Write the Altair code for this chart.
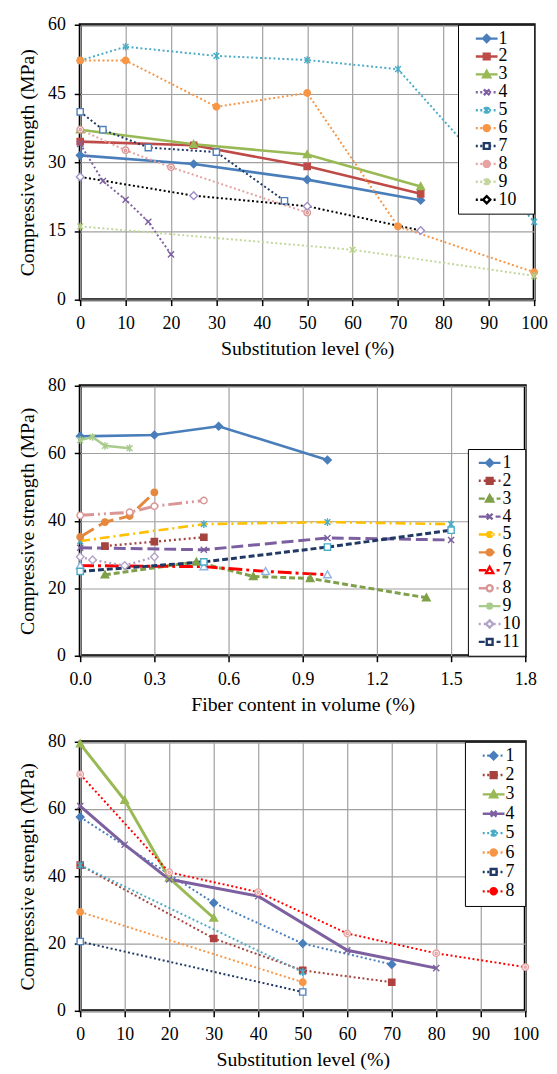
import altair as alt
import pandas as pd

FONT = "Liberation Serif, Times New Roman, DejaVu Serif, serif"

# ---------------- Panel 1: substitution level ----------------
p1_names = ["1", "2", "3", "4", "5", "6", "7", "8", "9", "10"]
p1_x = {
    "1": [0, 25, 50, 75],
    "2": [0, 25, 50, 75],
    "3": [0, 25, 50, 75],
    "4": [0, 5, 10, 15, 20],
    "5": [0, 10, 30, 50, 70, 100],
    "6": [0, 10, 30, 50, 70, 100],
    "7": [0, 5, 15, 30, 45],
    "8": [0, 10, 20, 50],
    "9": [0, 60, 100],
    "10": [0, 25, 50, 75],
}
p1_y = {
    "1": [31.5, 29.6, 26.2, 21.7],
    "2": [34.5, 33.7, 29.1, 23.1],
    "3": [37.1, 33.9, 31.7, 24.7],
    "4": [34.0, 25.9, 21.8, 17.0, 9.9],
    "5": [52.2, 55.2, 53.2, 52.3, 50.3, 17.0],
    "6": [52.2, 52.2, 42.1, 45.1, 16.0, 6.0],
    "7": [41.0, 37.1, 33.2, 32.2, 21.6],
    "8": [37.1, 32.6, 28.9, 19.0],
    "9": [16.0, 10.9, 5.2],
    "10": [26.8, 22.7, 20.4, 15.1],
}

# ---------------- Panel 2: fiber content ----------------
p2_names = ["1", "2", "3", "4", "5", "6", "7", "8", "9", "10", "11"]
p2_x = {
    "1": [0, 0.3, 0.56, 1.0],
    "2": [0.1, 0.3, 0.5],
    "3": [0.1, 0.47, 0.7, 0.93, 1.4],
    "4": [0, 0.5, 1.0, 1.5],
    "5": [0, 0.5, 1.0, 1.5],
    "6": [0, 0.1, 0.2, 0.3],
    "7": [0, 0.5, 0.75, 1.0],
    "8": [0, 0.2, 0.3, 0.5],
    "9": [0, 0.05, 0.1, 0.2],
    "10": [0, 0.05, 0.18, 0.3],
    "11": [0, 0.5, 1.0, 1.5],
}
p2_y = {
    "1": [65.0, 65.4, 68.0, 58.0],
    "2": [32.5, 33.8, 35.1],
    "3": [24.0, 27.8, 23.5, 22.9, 17.2],
    "4": [32.0, 31.4, 34.9, 34.3],
    "5": [34.0, 39.0, 39.6, 39.0],
    "6": [35.2, 39.6, 41.4, 48.4],
    "7": [26.7, 26.4, 25.0, 24.0],
    "8": [41.6, 42.5, 44.3, 46.0],
    "9": [63.9, 64.8, 62.2, 61.5],
    "10": [29.3, 28.4, 26.7, 29.3],
    "11": [25.0, 27.8, 32.2, 37.2],
}

# ---------------- Panel 3: substitution level ----------------
p3_names = ["1", "2", "3", "4", "5", "6", "7", "8"]
p3_x = {
    "1": [0, 30, 50, 70],
    "2": [0, 30, 50, 70],
    "3": [0, 10, 20, 30],
    "4": [0, 10, 20, 40, 60, 80],
    "5": [0, 50],
    "6": [0, 50],
    "7": [0, 50],
    "8": [0, 20, 40, 60, 80, 100],
}
p3_y = {
    "1": [57.6, 32.1, 20.0, 13.8],
    "2": [43.3, 21.5, 12.0, 8.5],
    "3": [79.4, 62.6, 39.5, 27.6],
    "4": [60.9, 49.4, 39.1, 34.1, 18.0, 12.7],
    "5": [43.3, 11.5],
    "6": [29.4, 8.5],
    "7": [20.6, 5.6],
    "8": [70.3, 41.2, 35.3, 23.0, 17.1, 13.0],
}

# ---------------- styles ----------------
DOT = [2, 2.5]
# (line colour, line width, dash, marker kind, marker stroke, marker fill)
p1_style = {
    "1": ("#4A7EBB", 2.6, None, "diamond", "#4A7EBB", "#4A7EBB"),
    "2": ("#BE4B48", 2.6, None, "square", "#BE4B48", "#BE4B48"),
    "3": ("#98B954", 2.6, None, "triangle", "#98B954", "#98B954"),
    "4": ("#7D60A0", 2.0, DOT, "x", "#7D60A0", "transparent"),
    "5": ("#4BACC6", 2.0, DOT, "asterisk", "#4BACC6", "transparent"),
    "6": ("#F79646", 2.0, DOT, "circle", "#F79646", "#F79646"),
    "7": ("#1F3864", 2.0, DOT, "square", "#4F81BD", "white"),
    "8": ("#E6A3A1", 2.0, DOT, "circledot", "#D99694", "white"),
    "9": ("#C3D69B", 2.0, DOT, "asterisk", "#B5CC8A", "transparent"),
    "10": ("#000000", 2.0, DOT, "diamond", "#9F8FC8", "white"),
}
p2_style = {
    "1": ("#4A7EBB", 2.6, None, "diamond", "#4A7EBB", "#4A7EBB"),
    "2": ("#A5443F", 2.4, [2, 3], "square", "#A5443F", "#A5443F"),
    "3": ("#7F9F48", 3.0, [6, 3], "triangle", "#7F9F48", "#7F9F48"),
    "4": ("#7B5FA0", 3.0, [12, 5], "x", "#7B5FA0", "transparent"),
    "5": ("#FFC000", 2.6, [10, 4, 2, 4], "asterisk", "#4BACC6", "transparent"),
    "6": ("#E5883E", 3.0, [16, 6], "circle", "#E5883E", "#E5883E"),
    "7": ("#FF0000", 3.0, [14, 4, 3, 4], "triangle", "#8EB4E3", "white"),
    "8": ("#D99694", 3.0, [14, 4, 2, 4, 2, 4], "circle", "#D99694", "white"),
    "9": ("#A9CC8C", 2.6, None, "asterisk", "#A9CC8C", "transparent"),
    "10": ("#B3A2C7", 2.4, [2, 3], "diamond", "#B3A2C7", "white"),
    "11": ("#1F3864", 3.0, [6, 3], "square", "#4BACC6", "white"),
}
p3_style = {
    "1": ("#4A7EBB", 2.0, DOT, "diamond", "#4A7EBB", "#4A7EBB"),
    "2": ("#A5443F", 2.0, DOT, "square", "#B0403F", "#B0403F"),
    "3": ("#98B954", 3.0, None, "triangle", "#98B954", "#98B954"),
    "4": ("#7D60A0", 3.0, None, "x", "#7D60A0", "transparent"),
    "5": ("#4BACC6", 2.0, DOT, "asterisk", "#4BACC6", "transparent"),
    "6": ("#F79646", 2.0, DOT, "circle", "#F79646", "#F79646"),
    "7": ("#1F3864", 2.0, DOT, "square", "#4F81BD", "white"),
    "8": ("#FF0000", 2.0, DOT, "circledot", "#E6A3A1", "white"),
}


def f(v):
    return f"{v:.3f}".rstrip("0").rstrip(".")


def marker_path(kind, cx, h):
    if kind == "diamond":
        return f"M{f(cx)},{f(-h)}L{f(cx + h)},0L{f(cx)},{f(h)}L{f(cx - h)},0Z"
    if kind == "square":
        a = 0.82 * h
        return f"M{f(cx - a)},{f(-a)}L{f(cx + a)},{f(-a)}L{f(cx + a)},{f(a)}L{f(cx - a)},{f(a)}Z"
    if kind == "triangle":
        return f"M{f(cx)},{f(-h)}L{f(cx + h)},{f(0.8 * h)}L{f(cx - h)},{f(0.8 * h)}Z"
    if kind == "x":
        a = 0.8 * h
        return f"M{f(cx - a)},{f(-a)}L{f(cx + a)},{f(a)}M{f(cx - a)},{f(a)}L{f(cx + a)},{f(-a)}"
    if kind == "asterisk":
        a = 0.75 * h
        return (f"M{f(cx - a)},{f(-a)}L{f(cx + a)},{f(a)}M{f(cx - a)},{f(a)}L{f(cx + a)},{f(-a)}"
                f"M{f(cx)},{f(-h)}L{f(cx)},{f(h)}")
    if kind in ("circle", "circledot"):
        r = 0.85 * h
        p = f"M{f(cx - r)},0A{f(r)},{f(r)} 0 1,0 {f(cx + r)},0A{f(r)},{f(r)} 0 1,0 {f(cx - r)},0Z"
        if kind == "circledot":
            q = 0.3 * h
            p += f"M{f(cx - q)},0A{f(q)},{f(q)} 0 1,0 {f(cx + q)},0A{f(q)},{f(q)} 0 1,0 {f(cx - q)},0Z"
        return p
    return ""


def legend_shape(kind, is_open, dash, x0, right_u, length=22.0, unit=5.0, h=0.72):
    x1 = x0 + length / unit
    cx = (x0 + x1) / 2
    intervals = []
    if dash is None:
        intervals = [(x0, x1)]
    else:
        pat = [d / unit for d in dash]
        pos, k = x0, 0
        while pos < x1 - 1e-9:
            seg = pat[k % len(pat)]
            if k % 2 == 0:
                intervals.append((pos, min(pos + seg, x1)))
            pos += seg
            k += 1
    if is_open:
        clipped = []
        for a, b in intervals:
            if b <= cx - h or a >= cx + h:
                clipped.append((a, b))
            else:
                if a < cx - h:
                    clipped.append((a, cx - h))
                if b > cx + h:
                    clipped.append((cx + h, b))
        intervals = clipped
    # near-invisible anchors that fix the legend entry's left and right extent
    parts = [f"M-1.8,0L-1.799,0", f"M{f(right_u)},0L{f(right_u + 0.001)},0"]
    parts += [f"M{f(a)},0L{f(b)},0" for a, b in intervals if b - a > 1e-6]
    parts.append(marker_path(kind, cx, h))
    return "".join(parts)


def arr(lst):
    return "[" + ",".join(f"'{v}'" for v in lst) + "]"


def panel(names, xs, ys, style, xdomain, xvalues, xtitle, ydomain, yvalues,
          width, height, legend_orient, lead, right_u, label_offset, row_pad, xfmt=None):
    line_colors = [style[n][0] for n in names]
    cscale = alt.Scale(domain=names, range=line_colors)
    lshapes = [legend_shape(style[n][3], style[n][5] == "white", style[n][2], lead, right_u) for n in names]
    lfills = [style[n][5] if style[n][5] != "transparent" else "white" for n in names]
    idx = f"indexof({arr(names)}, datum.value)"
    legend = alt.Legend(
        title=None, orient=legend_orient, offset=0, padding=5,
        strokeColor="black", fillColor="white",
        symbolSize=100, symbolStrokeWidth=2.4, symbolOpacity=1,
        symbolType={"expr": f"{arr(lshapes)}[{idx}]"},
        symbolFillColor={"expr": f"{arr(lfills)}[{idx}]"},
        labelFont=FONT, labelFontSize=18, labelColor="black",
        labelOffset=label_offset, rowPadding=row_pad,
    )
    axis_x = dict(values=xvalues, title=xtitle, grid=True, labelFlush=False)
    if xfmt:
        axis_x["format"] = xfmt
    X = alt.X("x:Q", scale=alt.Scale(domain=xdomain, nice=False, zero=False), axis=alt.Axis(**axis_x))
    Y = alt.Y("y:Q", scale=alt.Scale(domain=ydomain, nice=False),
              axis=alt.Axis(values=yvalues, title="Compressive strength (MPa)", grid=True))
    layers = []
    rows = []
    for n in names:
        df = pd.DataFrame({"x": xs[n], "y": ys[n], "s": n, "m": "m" + n})
        rows.append(df)
        color, w, dash, kind, mstroke, mfill = style[n]
        kw = dict(strokeWidth=w, clip=False)
        if dash is not None:
            kw["strokeDash"] = dash
        layers.append(
            alt.Chart(df).mark_line(**kw).encode(
                x=X, y=Y, color=alt.Color("s:N", scale=cscale, legend=legend)
            )
        )
    allpts = pd.concat(rows, ignore_index=True)
    mdom = ["m" + n for n in names]
    pshapes = [marker_path(style[n][3], 0, 1) for n in names]
    pts = alt.Chart(allpts).mark_point(size=60, opacity=1, fillOpacity=1, strokeWidth=1.4, clip=False).encode(
        x=X, y=Y,
        shape=alt.Shape("m:N", scale=alt.Scale(domain=mdom, range=pshapes), legend=None),
        fill=alt.Fill("m:N", scale=alt.Scale(domain=mdom, range=[style[n][5] for n in names]), legend=None),
        stroke=alt.Stroke("m:N", scale=alt.Scale(domain=mdom, range=[style[n][4] for n in names]), legend=None),
    )
    layers.append(pts)
    return alt.layer(*layers).properties(width=width, height=height)


c1 = panel(p1_names, p1_x, p1_y, p1_style, [0, 100], list(range(0, 101, 10)),
           "Substitution level (%)", [0, 60], [0, 15, 30, 45, 60],
           459, 278, "top-right", 0.8, 10.5, 18, 0.1)
c2 = panel(p2_names, p2_x, p2_y, p2_style, [0, 1.8], [0.0, 0.3, 0.6, 0.9, 1.2, 1.5, 1.8],
           "Fiber content in volume (%)", [0, 80], [0, 20, 40, 60, 80],
           450, 273, "bottom-right", -0.6, 6.8, 12, 0.1, xfmt=".1f")
c3 = panel(p3_names, p3_x, p3_y, p3_style, [0, 100], list(range(0, 101, 10)),
           "Substitution level (%)", [0, 80], [0, 20, 40, 60, 80],
           450, 272, "top-right", 0.8, 7.3, 18, 1.6)

chart = alt.vconcat(c1, c2, c3, spacing=15).resolve_scale(
    color="independent", shape="independent", fill="independent", stroke="independent",
    x="independent", y="independent"
).configure(
    font=FONT, padding={"left": 8, "top": 0, "right": 0, "bottom": 0}
).configure_view(
    stroke="black", strokeWidth=3
).configure_axis(
    labelFont=FONT, labelFontSize=18, labelColor="black",
    titleFont=FONT, titleFontSize=20, titleFontWeight="normal", titleColor="black",
    tickColor="black", tickSize=6, tickWidth=1.5, domain=False,
    gridColor="#A0A0A0", gridWidth=1.2, labelPadding=9, titlePadding=6,
).configure_axisY(
    titlePadding=10
).configure_legend(
    labelFont=FONT
)

chart.save("out.html", embed_options={"renderer": "svg", "actions": False})
